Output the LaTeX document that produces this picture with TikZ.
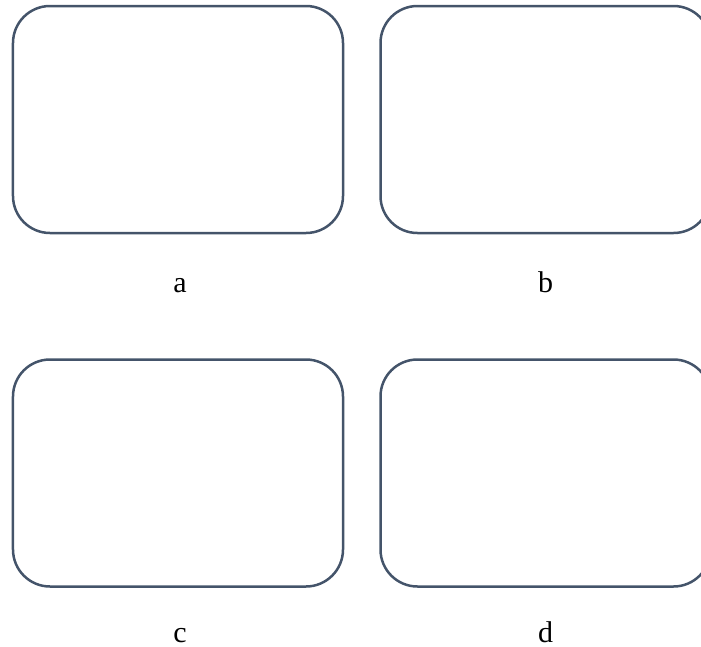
\documentclass[tikz,border=0pt]{standalone}
\usepackage{fontspec}
\setmainfont{Liberation Serif}
\usepackage{xcolor}
\usepackage{tikz}
\usetikzlibrary{positioning}
\definecolor{garis}{HTML}{44546A}
\tikzset{
  kotak/.style={rectangle, rounded corners=37pt, draw=garis, line width=2.5pt,
    minimum width=330pt, minimum height=227pt},
  huruf/.style={inner sep=0pt, text height=21pt, text depth=1pt,
    font=\fontsize{30}{36}\selectfont}
}

\begin{document}
\begin{tikzpicture}
  \useasboundingbox (-178pt,119.5pt) rectangle (523pt,-526.5pt);
  \node[kotak] (kA) at (0,0) {};
  \node[kotak, right=35pt of kA] (kB) {};
  \node[kotak, below=124pt of kA] (kC) {};
  \node[kotak, right=35pt of kC] (kD) {};
  \node[huruf, below=37pt of kA.south, xshift=2pt] (hA) {a};
  \node[huruf, below=37pt of kB.south] (hB) {b};
  \node[huruf, below=34pt of kC.south, xshift=2pt] (hC) {c};
  \node[huruf, below=34pt of kD.south] (hD) {d};
\end{tikzpicture}
\end{document}
